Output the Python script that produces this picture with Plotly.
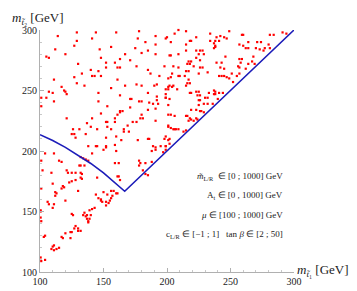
import plotly.graph_objects as go

# stop masses (GeV)
stop_m1 = [
    129,144,160,178,114,177,191,199,129,141,183,191,127,156,112,147,175,185,180,105,107,120,167,191,148,159,163,171,130,152,
    161,163,152,176,185,198,140,146,133,141,143,148,187,127,194,161,111,129,135,167,176,192,190,180,117,107,110,119,120,156,
    201,201,199,146,121,101,105,111,163,171,172,185,192,199,146,178,180,186,192,189,193,101,153,171,163,165,163,148,161,180,
    185,191,201,179,121,159,141,181,176,173,191,201,152,153,137,159,140,169,166,170,166,153,156,126,131,145,125,127,136,160,
    128,152,164,177,185,186,198,202,144,145,152,138,159,189,191,195,199,
    209,215,206,234,249,259,260,281,284,291,294,200,223,239,242,245,247,238,241,234,218,219,203,215,237,238,257,260,264,271,
    274,280,262,264,270,273,276,277,281,237,238,215,223,226,228,225,229,202,203,209,223,246,257,259,268,267,217,219,216,218,
    226,239,243,258,264,269,205,209,221,226,228,242,245,256,257,262,215,217,232,204,251,257,255,209,210,214,225,241,243,245,
    247,249,201,203,217,252,216,218,202,205,204,215,199,208,237,238,241,233,218,219,223,225,244,237,238,224,226,199,202,240,
    230,232,225,226,236,229,232,225,219,223,226,227,229,215,216,218,219,217,201,203,206,223,224,221,201,203,205,207,209,206,
    213,215,199,201,202,199,
    104,111,101,115,117,141,152,150,160,188,191,199,197,132,134,136,138,132,135,131,159,162,178,179,183,178,188,102,109,121,
    122,125,128,133,132,132,133,128,145,161,162,163,181,183,185,125,123,110,118,119,117,101,112,113,112,156,158,160,161,157,
    150,153,130,120,146,148,148,149,152,144,155,156,154,152,106,107,111,110,100.5,100.5,143,141,139,135,137,134,125,126,139,
    137,140,138,138,136,100.5,101,128,127,130,132,130,124,125,120,117,118,124,104,103,111,110,109,111,113,115,100.5,104,101,
]
stop_m2 = [
    298,298,298,299,295,293,295,293,291,293,290,288,287,286,284,284,285,283,281,278,277,280,280,280,277,273,276,275,272,273,
    269,269,269,270,267,270,267,266,264,262,262,262,264,261,262,259,259,256,254,254,255,255,254,254,253,249,248,250,249,252,
    253,251,247,248,247,244,244,241,246,243,243,248,245,244,241,241,241,240,242,239,239,237,237,236,233,233,232,231,230,230,
    234,235,238,227,227,227,227,227,224,224,225,220,224,224,223,224,220,221,218,216,216,220,218,218,218,218,214,214,214,212,
    211,211,209,209,210,210,210,206,204,204,204,204,205,204,203,204,204,
    300,299,297,297,299,296,296,296,296,298,297,294,294,294,295,294,293,291,291,291,291,291,290,288,289,287,288,287,290,290,
    290,288,285,285,285,284,283,285,285,285,286,283,283,283,283,280,280,279,279,280,277,278,276,276,278,274,274,274,272,272,
    275,273,273,273,272,272,270,269,270,269,269,269,268,270,269,268,266,266,265,264,264,264,262,262,262,262,264,262,262,262,
    261,260,260,261,259,257,256,256,254,254,253,254,251,251,250,249,248,248,248,248,249,249,248,247,247,246,246,244,243,243,
    244,244,242,242,239,239,239,238,234,234,233,233,232,229,229,227,226,225,230,230,229,227,226,225,221,219,218,218,218,218,
    216,217,212,209,210,204,
    198,198,192,192,191,198,203,201,200,200,201,201,199,195,194,193,192,188,188,188,190,190,192,190,190,188,191,184,182,184,
    182,182,182,181,182,178,177,176,178,179,179,176,184,181,180,175,174,173,171,170,169,169,166,165,163,167,167,165,165,163,
    166,164,167,159,161,160,159,158,158,164,159,161,157,155,158,156,156,153,150,151,153,152,151,149,147,147,148,147,144,
    144,147,142,141,146,145,142,138,136,136,134,134,133,133,132,129,128,128,130,129,122,121,119,118,119,120,112,110,109,
]

# boundary line
boundary_m1 = [100, 110, 120, 130, 140, 150, 160, 166.7, 300]
boundary_m2 = [213.5, 208.6, 203.0, 196.7, 189.7, 181.9, 173.2, 166.7, 300]

tick_vals = [100, 150, 200, 250, 300]
tick_text = ["100", "150", "200", "250", "300"]

param_lines = [
    "<i>m\u0303</i><sub>L/R</sub>\u00a0\u00a0\u2208 [0 ; 1000] GeV",
    "A<sub>t</sub> \u2208 [0 , 1000] GeV",
    "<i>\u03bc</i> \u2208 [100 ; 1000] GeV",
    "c<sub>L/R</sub> \u2208 [\u22121 ; 1]\u00a0\u00a0\u00a0tan <i>\u03b2</i> \u2208 [2 ; 50]",
]
param_y = [0.394, 0.315, 0.236, 0.157]

SERIF = "Liberation Serif"

fig = go.Figure()
fig.add_trace(go.Scatter(
    x=stop_m1, y=stop_m2, mode="markers",
    marker=dict(symbol="square", size=2.2, color="rgb(255,0,0)", line=dict(width=0)),
    hoverinfo="skip", showlegend=False, cliponaxis=False,
))
fig.add_trace(go.Scatter(
    x=boundary_m1, y=boundary_m2, mode="lines",
    line=dict(color="rgb(28,28,185)", width=1.6),
    hoverinfo="skip", showlegend=False,
))

axis_common = dict(
    range=[100, 300], tickvals=tick_vals, ticktext=tick_text,
    ticks="inside", ticklen=4, tickwidth=1, tickcolor="#b0b0b0",
    showline=True, linecolor="#b0b0b0", linewidth=1,
    showgrid=False, zeroline=False,
    tickfont=dict(family=SERIF, size=10, color="#222"),
    minor=dict(dtick=10, tick0=100, ticks="inside", ticklen=2, tickcolor="#c8c8c8", showgrid=False),
)

fig.update_layout(
    width=357, height=291,
    margin=dict(l=32, r=71, t=22, b=15),
    paper_bgcolor="white", plot_bgcolor="white",
    xaxis=dict(**axis_common),
    yaxis=dict(**axis_common),
    font=dict(family=SERIF, color="#222"),
)

annotations = [
    dict(text="<i>m</i><sub><i>t\u0303</i>\u2082</sub> [GeV]", xref="paper", yref="paper",
         x=-0.118, y=1.047, xanchor="left", yanchor="middle", showarrow=False,
         font=dict(family=SERIF, size=13, color="#222")),
    dict(text="<i>m</i><sub><i>t\u0303</i>\u2081</sub> [GeV]", xref="paper", yref="paper",
         x=1.004, y=0.006, xanchor="left", yanchor="middle", showarrow=False,
         font=dict(family=SERIF, size=13, color="#222")),
]
for txt, yy in zip(param_lines, param_y):
    annotations.append(dict(text=txt, xref="paper", yref="paper", x=0.965, y=yy,
                            xanchor="right", yanchor="middle", showarrow=False,
                            font=dict(family=SERIF, size=9, color="#222")))
fig.update_layout(annotations=annotations)

fig.write_html("out.html")
